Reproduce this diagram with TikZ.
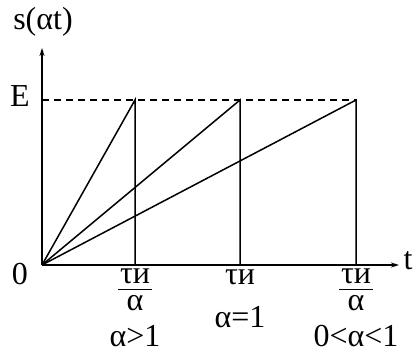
\documentclass[tikz,border=0pt]{standalone}
\usepackage{fontspec}
\setmainfont{Liberation Serif}
\usetikzlibrary{arrows.meta,positioning}

\begin{document}
\begin{tikzpicture}[x=1pt,y=-1pt,>={Stealth[length=8pt,width=5pt]},
  lbl/.style={font=\fontsize{32}{34}\selectfont,inner sep=0pt},
  frac/.style={lbl,text height=0.45em,text depth=0pt},
  ln/.style={line width=1.5pt}]
 \useasboundingbox (0,0) rectangle (414,354);
 % axes
 \coordinate (O) at (42,265);
 \coordinate (ytop) at (42,48);
 \coordinate (xend) at (399,265);
 \coordinate (e) at (42,100);
 \coordinate (p1) at (135,100);
 \coordinate (p2) at (240,100);
 \coordinate (p3) at (356,100);
 \coordinate (b1) at (135,265);
 \coordinate (b2) at (240,265);
 \coordinate (b3) at (356,265);
 \draw[ln,->] (O) -- (ytop);
 \draw[ln,->] (O) -- (xend);
 \draw[ln,dash pattern=on 7pt off 5pt] (e) -- (p3);
 \foreach \p/\b in {p1/b1,p2/b2,p3/b3}
  \draw[ln] (O) -- (\p) -- (\b);
 % labels
 \node[lbl] (s) at (43,22) {s(αt)};
 \node[lbl] (E) at (20,96) {E};
 \node[lbl] (zero) at (20,274) {0};
 \node[lbl] (t) at (408,261) {t};
 \node[frac] (n1) at (135,281) {τи};
 \node[frac] (d1) at (135,308) {α};
 \node[lbl] (c1) at (135,336) {α>1};
 \node[frac] (f2) at (240,282) {τи};
 \node[lbl] (c2) at (240,317) {α=1};
 \node[frac] (n3) at (356,281) {τи};
 \node[frac] (d3) at (356,308) {α};
 \node[lbl] (c3) at (356,336) {0<α<1};
 % fraction bars
 \draw[ln] (n1.south) ++(-17,6) -- ++(34,0);
 \draw[ln] (n3.south) ++(-17,6) -- ++(34,0);
\end{tikzpicture}
\end{document}
